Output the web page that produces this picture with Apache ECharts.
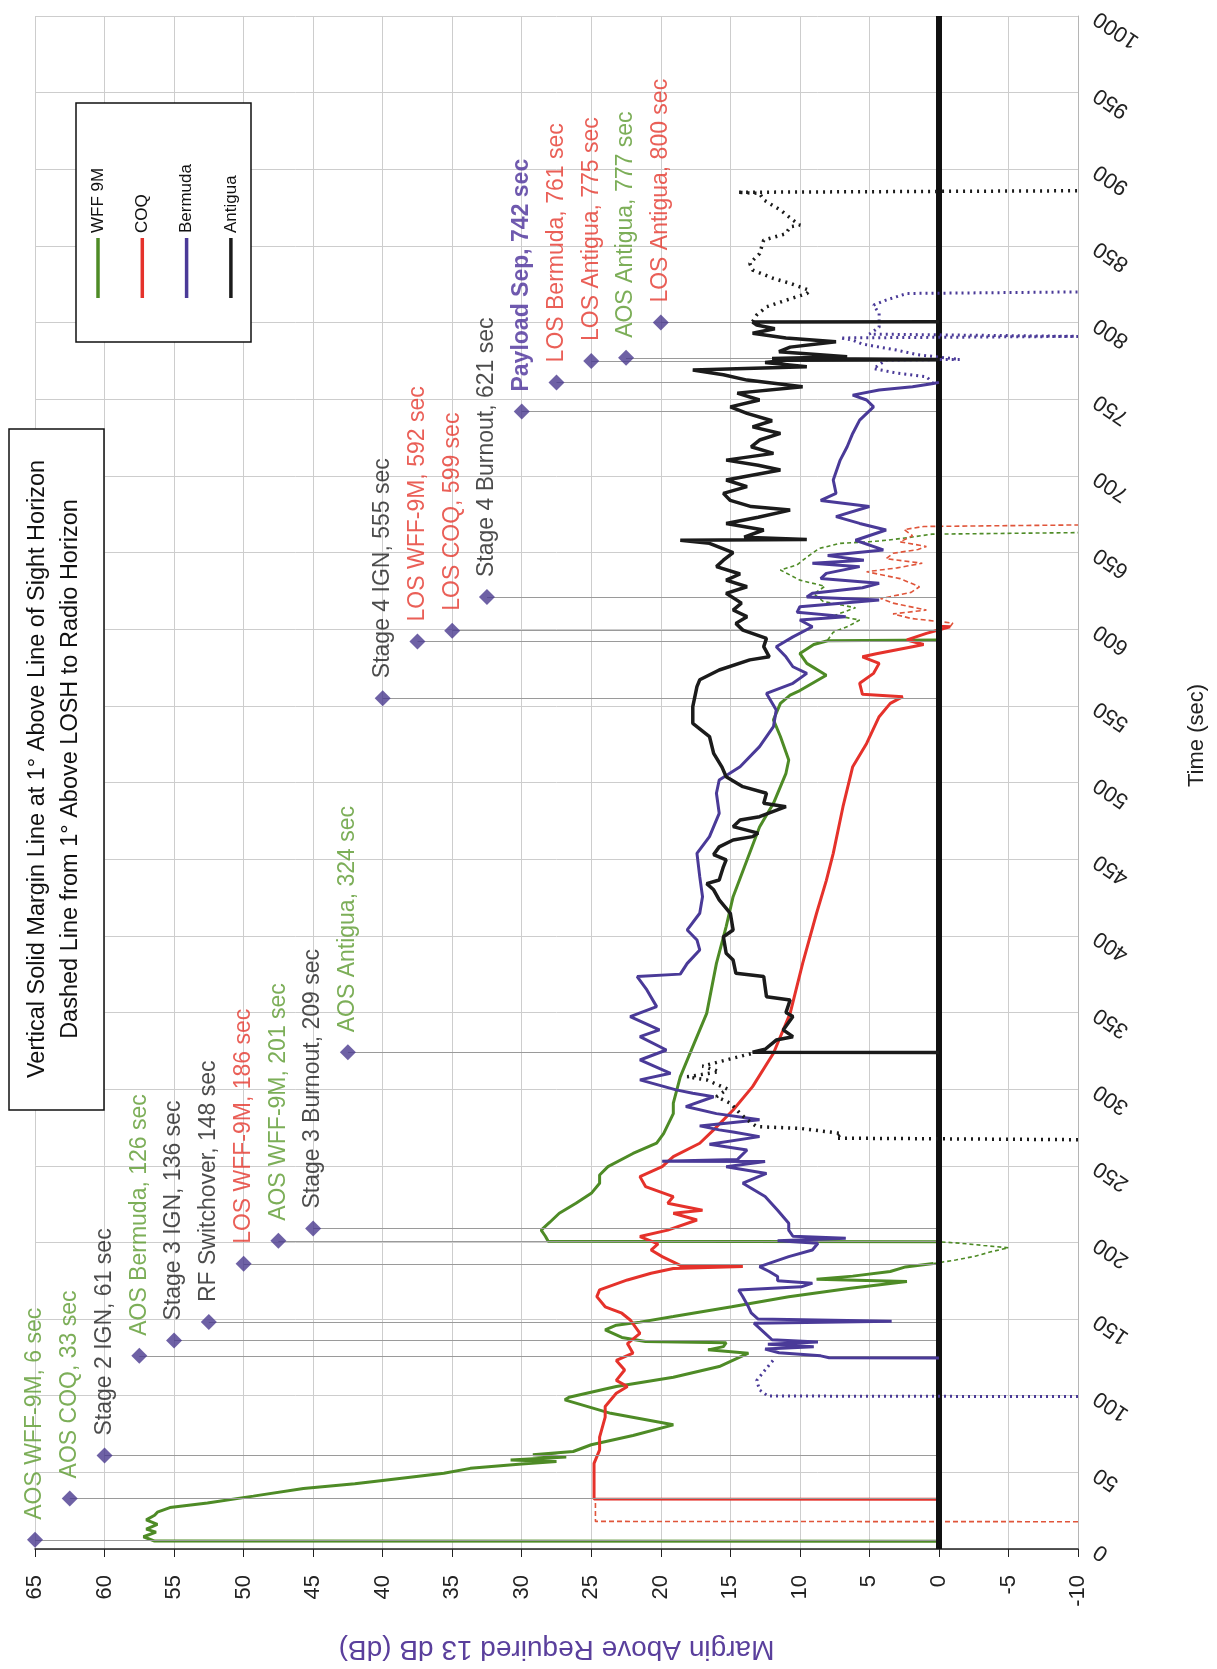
<!DOCTYPE html>
<html>
<head>
<meta charset="utf-8">
<title>Margin Above Required 13 dB</title>
<script src="https://cdn.jsdelivr.net/npm/echarts@6.0.0/dist/echarts.min.js"></script>
<style>
  html, body { margin: 0; padding: 0; background: #fff; }
  #chart { width: 1217px; height: 1669px; }
</style>
</head>
<body>
<div id="chart"></div>
<script>
// every trace point is [time (sec), margin (dB)]
var wffSolidA = [[5,0],[5.2,56.4],[8,57.2],[11,56.3],[13,57.0],[16,56.2],[19,57.0],[22,56.4],[24,56.2],[27,55.3],[30,52.6],[34.5,49.3],[39.5,45.7],[42.5,42.0],[45,39.7],[49.4,35.6],[52.6,33.7],[55.5,30.0],[57,27.5],[58,30.8],[60,26.8],[61.5,29.2],[63.6,26.3],[68,25.0],[74,22.0],[81,19.1],[88.5,23.6],[97.3,26.9],[99,26.6],[106,23.2],[112,19.1],[119,15.8],[127.7,13.7],[129.9,16.6],[132,15.5],[134.6,15.3],[135.3,21.1],[138,22.8],[142.9,24.0],[146,23.2],[148,21.5],[151.6,19.1],[158,14.9],[164.6,10.8],[170,6.5],[174.5,2.3],[176,8.8],[178,6.2],[181,3.5],[184,2.4],[186.2,0.4]]
var wffDashA = [[186.2,0.4],[188.5,-1.2],[191,-2.6],[194,-3.8],[196.5,-5.0],[198,-3.2],[199.5,-1.5],[200.4,0]]
var wffSolidB = [[200.5,0],[200.7,28.1],[204,28.3],[208,28.6],[213,28.0],[219,27.3],[225.5,26.1],[232,25.0],[238.6,24.4],[244,24.4],[249.4,23.8],[258,22.0],[264.7,20.3],[271,19.8],[284,19.1],[290.8,19.1],[308,18.6],[327.7,17.7],[349.4,16.7],[382,16.0],[406,15.3],[425.5,14.8],[449.5,13.8],[471,12.9],[486.4,11.9],[506,11.0],[514.7,10.8],[530,11.4],[540.8,11.9],[551.6,11.4],[557,10.7],[560,10.0],[570,8.1],[577.7,9.5],[584.2,10.0],[590,9.0],[592.5,8.0],[593,0]]
var wffDashB = [[593,8.0],[598,7.6],[602,6.5],[606,5.7],[609,7.5],[614,6.0],[618,8.3],[623,9.0],[628,8.2],[632,10.0],[638.6,11.4],[642,10.2],[647,9.5],[652.7,8.6],[656,7.1],[657,5.0],[658,3.8],[660,2.0],[662,0.5],[663,-10]]

var coqDashA = [[17.8,-10],[18,24.7],[25,24.7],[32.4,24.7]]
var coqSolid = [[32.5,0],[32.6,24.8],[45,24.8],[55.9,24.8],[64.7,24.4],[73,24.4],[86,24.0],[93,24.0],[101.6,23.2],[106,22.4],[110,23.2],[116.8,22.6],[123,23.2],[127.7,22.0],[134,22.4],[140.7,21.5],[149.4,22.2],[153.8,22.8],[158,24.0],[164.6,24.6],[169,24.4],[175.5,22.4],[179.9,20.7],[183,19.1],[184.2,14.1],[185,18.6],[190.7,19.9],[195,20.7],[199,20.2],[203.8,21.5],[208,19.5],[214.6,17.4],[219,19.1],[221,17.0],[225.5,19.5],[229.9,19.1],[236.4,21.1],[242.9,21.5],[249.4,19.9],[256,19.1],[264.7,17.2],[273.4,16.2],[286.4,14.8],[301.6,13.4],[323.4,11.9],[349.4,10.7],[382,9.8],[414.7,8.8],[436,8.1],[453.8,7.6],[484.2,6.9],[510.3,6.2],[525.5,5.2],[542.9,4.3],[551.6,3.5],[556,2.6],[557.5,5.5],[564.7,5.7],[571.2,4.7],[577.7,4.3],[582,5.5],[584,4.5],[588.6,1.9],[590,1.1],[593,2.3],[597.3,0.9],[601.6,-0.8],[602,0],[758,0]]
var coqDashB = [[601.6,-0.8],[604,-1],[607,2.0],[610,3.3],[612.5,0.9],[617,3.3],[620,4.2],[624,2.0],[627.7,1.4],[633,2.8],[637.5,5.2],[640,3.0],[643,1.2],[646,3.8],[649.5,3.3],[652,1.5],[654,0.9],[657,2.8],[661,1.9],[665,2.5],[667,1.1],[668,-10]]

var bdaDashA = [[99.4,-10],[99.8,12.3],[103.8,12.9],[110,13.1],[116.8,12.5],[124.4,11.8]]
var bdaSolid = [[124.6,0],[124.8,7.9],[126,8.5],[128,11.5],[130.5,12.5],[132,9.0],[133.5,12.3],[135,8.7],[136.5,12.0],[140.7,12.5],[147.3,13.3],[148.5,3.4],[150,13.0],[154,13.5],[158,13.7],[164.6,14.1],[169,14.4],[171,9.9],[173.4,9.1],[175,11.6],[177.7,11.6],[181,12.2],[184.2,12.9],[190.7,10.8],[195,9.1],[199.4,8.7],[201,11.6],[202.7,6.7],[204,10.5],[208,10.8],[212.5,10.8],[221,11.6],[229.9,12.5],[238.6,14.1],[245,12.4],[249.4,15.3],[252.7,12.5],[252.9,19.9],[254,14.5],[260.3,13.8],[264,16.5],[269,12.9],[272,14.8],[273.4,15.8],[276,17.2],[280,12.9],[284,16.0],[288.6,18.2],[295,16.2],[297.3,17.7],[299.5,18.9],[306,21.5],[310.3,19.3],[319,21.5],[325.5,19.6],[334.2,21.5],[338.6,20.1],[347.3,22.2],[353.8,20.3],[364.7,21.0],[373.4,21.7],[375,18.6],[382,18.1],[390.8,17.2],[397.3,17.4],[403.8,18.1],[414.7,17.2],[425.5,17.0],[438.6,17.2],[453.8,17.4],[464.7,16.5],[479.9,15.8],[493,16.0],[501.6,15.8],[510.3,14.3],[523.4,12.9],[536.4,11.9],[547.3,11.7],[558.1,12.4],[564.7,10.5],[571.2,9.5],[575.5,10.5],[582,11.0],[588.6,11.7],[595,10.5],[601.6,9.1],[606,10.0],[608.2,6.7],[611,10.2],[614.7,10.0],[619,4.3],[621,9.5],[623.4,9.1],[627,5.5],[630,4.3],[633,8.5],[636.4,8.1],[640.8,5.7],[643,9.1],[645,5.4],[648,8.0],[651.7,4.0],[658,6.0],[664.7,3.8],[669,5.7],[673.4,7.4],[680,5.0],[684,8.5],[688.6,7.4],[697.3,7.6],[710.3,7.1],[719,6.6],[727.7,6.2],[736.4,5.7],[745,4.7],[749.5,5.2],[752.7,6.2],[756,4.3],[758.2,1.9],[760.3,0.4],[761,0]]
var bdaDashB = [[760.3,0.4],[764.7,0.9],[767,3.0],[770,4.7],[775.6,3.8],[776,-1.5],[779,1.5],[782,3.0],[786,5.5],[788.6,6.2],[790,7.1],[791,-10],[792.5,5.0],[797,4.3],[806,4.3],[811.4,4.7],[814.7,3.8],[819,2.3],[820,-10]]

var antDashA = [[267,-10],[268,7.4],[271,7.0],[274.4,10.0],[275.5,13.1],[280,13.8],[284.2,14.3],[290.8,15.0],[295,16.0],[300,15.2],[306,16.7],[308,18.1],[311.4,15.8],[315,17.0],[319,15.3],[323.4,13.4]]
var antSolid = [[323.8,0],[324,13.4],[326,12.5],[332,11.7],[334.2,10.5],[338.6,11.2],[347.3,10.5],[350,11.0],[358.1,10.7],[360.3,12.4],[373.4,12.6],[375.5,14.6],[384.2,14.8],[388.6,15.3],[399.4,15.5],[403.8,14.8],[414.7,15.0],[423.4,15.8],[430,16.2],[434,16.7],[436.4,15.8],[445,15.5],[449.5,15.3],[453,16.2],[458,15.8],[462.5,14.8],[464.7,13.4],[467,13.0],[471.2,14.8],[475.5,14.3],[477.7,12.9],[484.2,11.0],[486.4,12.6],[493,12.4],[497.3,14.1],[503.8,15.3],[510,15.6],[519,16.2],[530,16.5],[538.6,17.7],[549.5,17.7],[562.5,17.4],[567,17.2],[573.4,15.8],[580,13.6],[582,12.2],[588.6,12.6],[594,12.4],[599.4,14.1],[603.8,14.6],[608.2,13.8],[612.5,14.8],[617,14.2],[623.4,15.3],[627.7,13.8],[632,15.3],[636,14.3],[640.8,16.0],[645,15.5],[650,14.8],[656,16.5],[658,18.6],[658.5,9.5],[660,14.0],[664.7,12.6],[669,15.3],[673,13.0],[677.7,10.7],[680,13.5],[684,15.0],[688.6,15.5],[693,13.8],[697.3,15.3],[703.8,11.4],[707,13.0],[710.3,15.3],[714.7,11.9],[719,13.5],[723.4,12.9],[727.7,11.4],[732,13.4],[736,12.0],[740.8,13.8],[745,15.0],[749.5,12.9],[754,14.5],[758.2,9.8],[762.5,13.8],[766,15.5],[769,17.7],[771.2,9.5],[774,12.5],[775.5,11.0],[776,0],[776.6,12.0],[777.7,6.6],[781,11.5],[784,10.7],[787.5,7.4],[790,11.0],[793,13.4],[796,11.8],[798.4,13.1],[800.4,13.4],[800.6,0]]
var antDashB = [[800.6,13.4],[805,13.1],[810.3,12.4],[814,11.2],[819,9.5],[821,9.3],[825.6,10.7],[828.8,11.9],[834.3,13.4],[838.6,13.6],[845,12.9],[853.8,12.6],[858,11.0],[862.5,10.7],[863.6,10.0],[866.9,10.5],[873.4,11.4],[880,12.6],[884.3,12.9],[885,14.5],[886,-10]]

// flight events
var eventNames = ['AOS WFF-9M, 6 sec', 'AOS COQ, 33 sec', 'Stage 2 IGN, 61 sec', 'AOS Bermuda, 126 sec', 'Stage 3 IGN, 136 sec', 'RF Switchover, 148 sec', 'LOS WFF-9M, 186 sec', 'AOS WFF-9M, 201 sec', 'Stage 3 Burnout, 209 sec', 'AOS Antigua, 324 sec', 'Stage 4 IGN, 555 sec', 'LOS WFF-9M, 592 sec', 'LOS COQ, 599 sec', 'Stage 4 Burnout, 621 sec', 'Payload Sep, 742 sec', 'LOS Bermuda, 761 sec', 'LOS Antigua, 775 sec', 'AOS Antigua, 777 sec', 'LOS Antigua, 800 sec']
var eventTimes = [6, 33, 61, 126, 136, 148, 186, 201, 209, 324, 555, 592, 599, 621, 742, 761, 775, 777, 800]
var eventLevels = [65, 62.5, 60, 57.5, 55, 52.5, 50, 47.5, 45, 42.5, 40, 37.5, 35, 32.5, 30, 27.5, 25, 22.5, 20]
var eventKinds = ['aos', 'aos', 'stage', 'aos', 'stage', 'stage', 'los', 'aos', 'stage', 'aos', 'stage', 'los', 'los', 'stage', 'sep', 'los', 'los', 'aos', 'los']

var stations = ['WFF 9M', 'COQ', 'Bermuda', 'Antigua']

var FONT = '"Liberation Sans", Arial, sans-serif'
var GREEN = '#4e8b26'
var RED = '#e5322b'
var PURPLE = '#4a3a98'
var BLACK = '#1b1b1b'
var kindColor = { aos: '#5b9a2e', los: '#e5372d', stage: '#1e1e1e', sep: '#4b2f9a' }
var stationColor = [GREEN, RED, PURPLE, BLACK]

function xy(arr) {
  return arr.map(function (p) { return [p[1], p[0]] })
}

function trace(name, arr, color, width, dash, z) {
  return {
    name: name,
    type: 'line',
    data: xy(arr),
    showSymbol: false,
    symbol: 'none',
    silent: true,
    z: z,
    lineStyle: { color: color, width: width, type: dash || 'solid' }
  }
}

var chart = echarts.init(document.getElementById('chart'))

var series = [
  // thin drop lines from each event marker down to zero margin
  {
    type: 'line',
    data: [],
    silent: true,
    z: 1,
    markLine: {
      silent: true,
      animation: false,
      symbol: ['none', 'none'],
      label: { show: false },
      lineStyle: { color: '#9a9a9a', width: 1.2, type: 'solid' },
      data: eventTimes.map(function (t, i) {
        return [{ coord: [eventLevels[i], t] }, { coord: [0, t] }]
      })
    }
  },
  // heavy zero-margin line, under the station traces
  {
    type: 'line',
    data: [],
    silent: true,
    z: 2,
    markLine: {
      silent: true,
      animation: false,
      symbol: ['none', 'none'],
      label: { show: false },
      lineStyle: { color: '#111', width: 6, type: 'solid' },
      data: [{ xAxis: 0 }]
    }
  },
  trace('WFF 9M', wffSolidA, GREEN, 3, 'solid', 3),
  trace('WFF 9M', wffSolidB, GREEN, 3, 'solid', 3),
  trace('WFF 9M dashed', wffDashA, GREEN, 1.6, [4, 3], 3),
  trace('WFF 9M dashed', wffDashB, GREEN, 1.6, [4, 3], 3),
  trace('COQ', coqSolid, RED, 3, 'solid', 4),
  trace('COQ dashed', coqDashA, '#e0553a', 1.6, [5, 3], 3),
  trace('COQ dashed', coqDashB, '#e0553a', 1.6, [5, 3], 3),
  trace('Bermuda', bdaSolid, PURPLE, 3, 'solid', 5),
  trace('Bermuda dashed', bdaDashA, PURPLE, 3, [2, 4], 5),
  trace('Bermuda dashed', bdaDashB, PURPLE, 3, [2, 4], 5),
  trace('Antigua', antSolid, BLACK, 3.5, 'solid', 6),
  trace('Antigua dashed', antDashA, BLACK, 3.5, [2, 5], 6),
  trace('Antigua dashed', antDashB, BLACK, 3.5, [2, 5], 6),
  {
    name: 'events',
    type: 'scatter',
    symbol: 'diamond',
    symbolSize: 16,
    clip: false,
    silent: true,
    z: 10,
    itemStyle: { color: '#4a3a8f' },
    data: eventTimes.map(function (t, i) {
      var kind = eventKinds[i]
      return {
        name: eventNames[i],
        value: [eventLevels[i], t],
        label: {
          color: kindColor[kind],
          fontWeight: kind === 'sep' ? 'bold' : 'normal'
        }
      }
    }),
    label: {
      show: true,
      position: 'top',
      distance: 12,
      rotate: 90,
      align: 'left',
      verticalAlign: 'middle',
      fontSize: 23,
      fontFamily: FONT,
      formatter: '{b}'
    }
  }
]

// legend box drawn by hand so the text can stand on end like the original
var legendItems = stations.map(function (s, i) {
  var x = 98 + i * 44.3
  return [
    {
      type: 'line',
      z: 101,
      shape: { x1: x, y1: 238, x2: x, y2: 298 },
      style: { stroke: stationColor[i], lineWidth: 3.5 }
    },
    {
      type: 'text',
      z: 101,
      x: x,
      y: 233,
      rotation: Math.PI / 2,
      style: { text: s, fill: '#111', font: '17px ' + FONT, align: 'left', verticalAlign: 'middle' }
    }
  ]
}).reduce(function (a, b) { return a.concat(b) }, [])

var graphics = [
  {
    type: 'rect',
    z: 100,
    shape: { x: 9, y: 429, width: 95, height: 681 },
    style: { fill: '#fff', stroke: '#111', lineWidth: 1.5 }
  },
  {
    type: 'text',
    z: 101,
    x: 38,
    y: 769,
    rotation: Math.PI / 2,
    style: { text: 'Vertical Solid Margin Line at 1° Above Line of Sight Horizon', fill: '#111', font: '23.5px ' + FONT, align: 'center', verticalAlign: 'middle' }
  },
  {
    type: 'text',
    z: 101,
    x: 71,
    y: 769,
    rotation: Math.PI / 2,
    style: { text: 'Dashed Line from 1° Above LOSH to Radio Horizon', fill: '#111', font: '23.5px ' + FONT, align: 'center', verticalAlign: 'middle' }
  },
  {
    type: 'rect',
    z: 100,
    shape: { x: 76, y: 103, width: 175, height: 239 },
    style: { fill: '#fff', stroke: '#111', lineWidth: 1.5 }
  }
].concat(legendItems)

chart.setOption({
  backgroundColor: '#fff',
  animation: false,
  textStyle: { fontFamily: FONT },
  grid: {
    left: 35,
    right: 139,
    top: 16,
    bottom: 120,
    containLabel: false,
    outerBoundsMode: 'none'
  },
  xAxis: {
    type: 'value',
    min: -10,
    max: 65,
    interval: 5,
    inverse: true,
    position: 'bottom',
    name: 'Margin Above Required 13 dB (dB)',
    nameLocation: 'middle',
    nameRotate: 180,
    nameGap: 86,
    nameTextStyle: { color: '#5a3f9c', fontSize: 28, fontFamily: FONT },
    axisLine: { show: true, onZero: false, lineStyle: { color: '#222', width: 1.5 } },
    axisTick: { show: true, inside: false, length: 8, lineStyle: { color: '#222' } },
    axisLabel: { rotate: 90, margin: 26, fontSize: 22, color: '#222', fontFamily: FONT },
    splitLine: { show: true, lineStyle: { color: '#cdcdcd', width: 1 } }
  },
  yAxis: {
    type: 'value',
    min: 0,
    max: 1000,
    interval: 50,
    position: 'right',
    name: 'Time (sec)',
    nameLocation: 'middle',
    nameRotate: 90,
    nameGap: 108,
    nameTextStyle: { color: '#222', fontSize: 22, fontFamily: FONT, padding: [0, 0, 0, 94] },
    axisLine: { show: true, onZero: false, lineStyle: { color: '#b5b5b5', width: 1 } },
    axisTick: { show: false },
    axisLabel: {
      rotate: 146,
      margin: 18,
      fontSize: 22,
      color: '#222',
      fontFamily: FONT,
      formatter: function (v) { return String(v) }
    },
    splitLine: { show: true, lineStyle: { color: '#cdcdcd', width: 1 } }
  },
  graphic: graphics,
  series: series
})
</script>
</body>
</html>
